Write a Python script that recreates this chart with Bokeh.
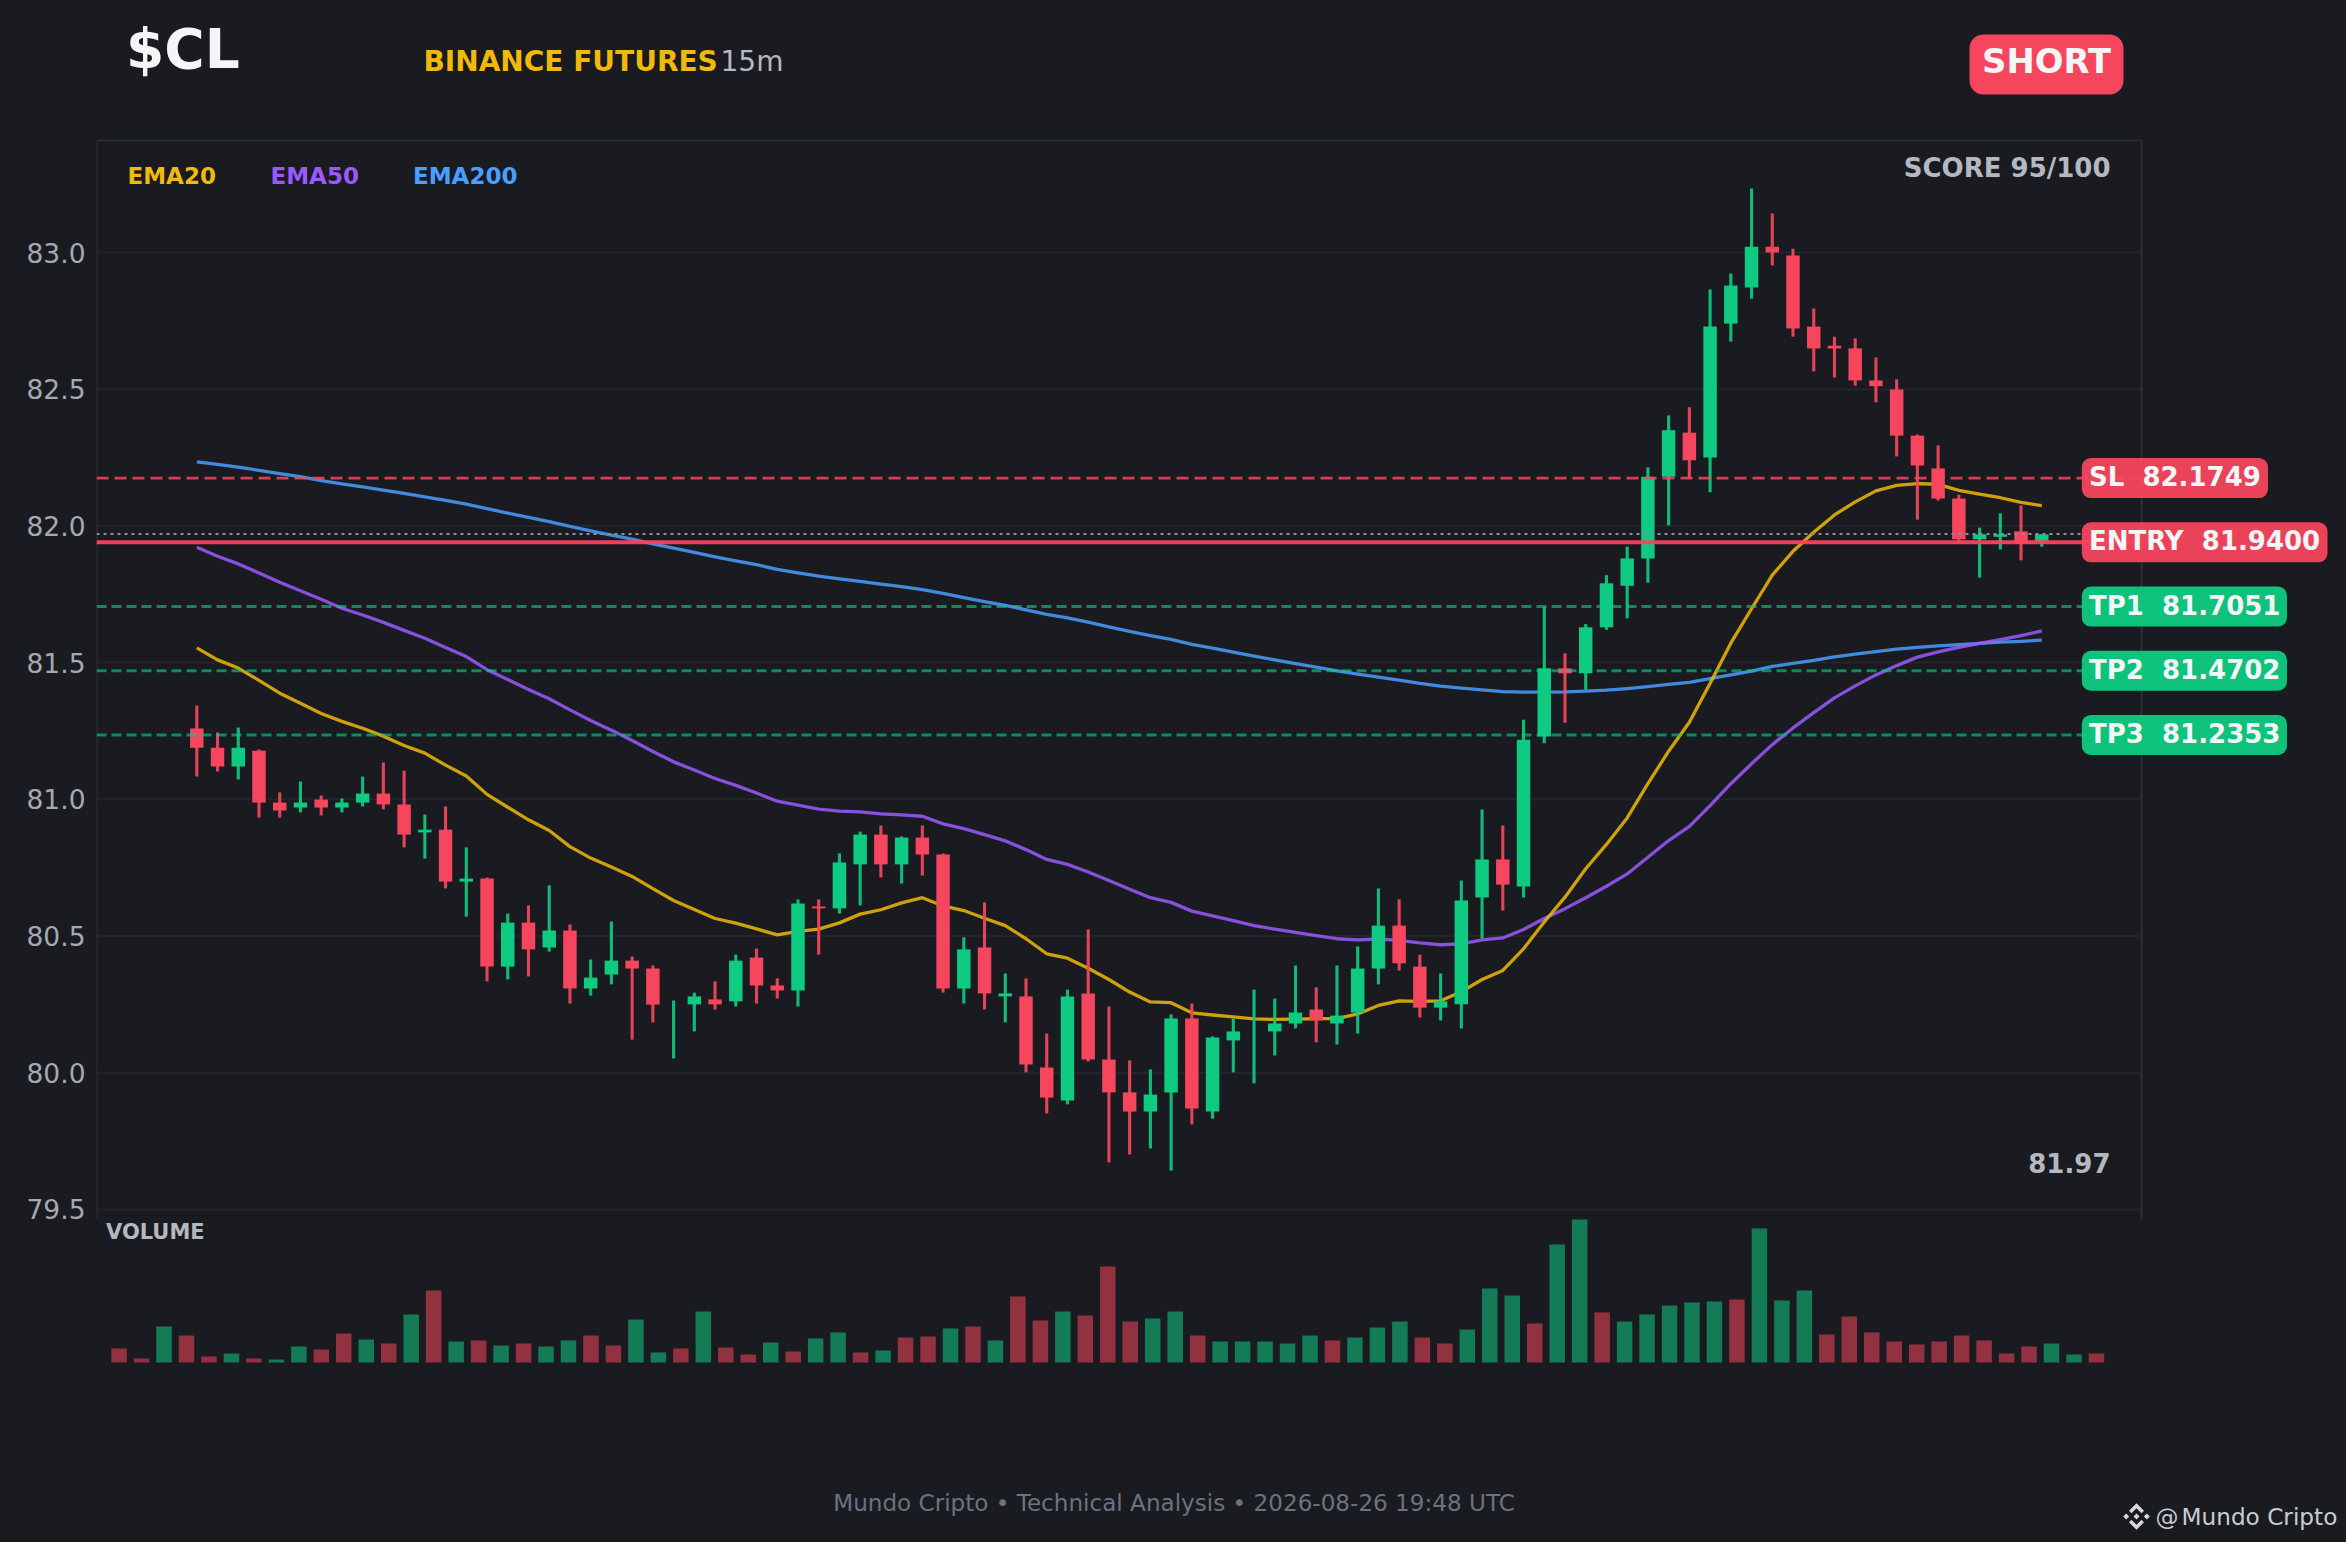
from bokeh.plotting import figure
from bokeh.models import (Range1d, Label, BoxAnnotation, ColumnDataSource, FixedTicker,
                          GlobalInlineStyleSheet, PrintfTickFormatter)
from bokeh.embed import file_html
from bokeh.resources import INLINE

BG = "#191B20"
GREEN = "#0ECB81"
RED = "#F6465D"
FONT = "DejaVu Sans"

opens = [81.259,81.189,81.120,81.178,80.988,80.970,80.999,80.970,80.988,81.021,
         80.981,80.879,80.889,80.699,80.710,80.388,80.549,80.458,80.520,80.308,
         80.359,80.410,80.381,80.264,80.250,80.268,80.261,80.421,80.319,80.301,
         80.608,80.601,80.762,80.871,80.762,80.860,80.798,80.308,80.458,80.279,
         80.279,80.019,79.898,80.290,80.048,79.928,79.858,79.928,80.198,79.858,
         80.118,80.195,80.151,80.180,80.231,80.180,80.220,80.381,80.538,80.388,
         80.238,80.250,80.641,80.780,80.681,81.230,81.479,81.461,81.629,81.781,
         81.881,82.180,82.341,82.250,82.740,82.872,83.021,82.989,82.729,82.659,
         82.649,82.532,82.499,82.330,82.210,82.100,81.951,81.960,81.980,81.944]
closes = [81.189,81.120,81.189,80.988,80.959,80.988,80.970,80.988,81.021,80.981,
          80.871,80.889,80.699,80.710,80.388,80.549,80.451,80.520,80.308,80.348,
          80.410,80.381,80.249,80.264,80.279,80.250,80.410,80.319,80.301,80.619,
          80.601,80.769,80.871,80.762,80.860,80.798,80.308,80.451,80.290,80.290,
          80.030,79.909,80.279,80.048,79.928,79.858,79.920,80.198,79.869,80.129,
          80.151,80.195,80.180,80.220,80.191,80.209,80.381,80.538,80.400,80.238,
          80.261,80.630,80.780,80.688,81.218,81.479,81.461,81.629,81.790,81.881,
          82.180,82.350,82.240,82.729,82.879,83.021,83.000,82.722,82.649,82.649,
          82.532,82.511,82.330,82.221,82.100,81.951,81.969,81.969,81.935,81.969]
highs = [81.343,81.244,81.263,81.182,81.025,81.065,81.014,81.003,81.083,81.135,
         81.105,80.944,80.974,80.824,80.714,80.582,80.612,80.685,80.542,80.414,
         80.553,80.425,80.392,80.264,80.293,80.334,80.432,80.454,80.345,80.634,
         80.634,80.802,80.882,80.904,80.864,80.904,80.802,80.495,80.623,80.363,
         80.345,80.143,80.304,80.524,80.242,80.045,80.012,80.213,80.253,80.133,
         80.198,80.304,80.271,80.392,80.312,80.392,80.462,80.674,80.634,80.432,
         80.363,80.703,80.963,80.904,81.291,81.704,81.534,81.641,81.820,81.924,
         82.214,82.404,82.434,82.865,82.923,83.234,83.143,83.014,82.795,82.692,
         82.686,82.616,82.536,82.334,82.294,82.114,81.994,82.046,82.075,81.970]
lows = [81.083,81.102,81.072,80.933,80.933,80.952,80.941,80.952,80.974,80.963,
        80.824,80.783,80.674,80.571,80.334,80.341,80.352,80.443,80.253,80.282,
        80.323,80.121,80.184,80.052,80.151,80.231,80.242,80.253,80.271,80.242,
        80.432,80.582,80.612,80.714,80.692,80.721,80.293,80.253,80.231,80.184,
        80.001,79.851,79.884,80.041,79.672,79.701,79.723,79.642,79.811,79.832,
        80.001,79.961,80.063,80.162,80.111,80.103,80.143,80.323,80.374,80.202,
        80.191,80.162,80.491,80.593,80.641,81.205,81.280,81.401,81.620,81.662,
        81.792,82.002,82.176,82.123,82.674,82.831,82.953,82.692,82.565,82.543,
        82.513,82.452,82.254,82.023,82.093,81.938,81.811,81.914,81.874,81.924]

ema20 = [81.554,81.510,81.480,81.435,81.388,81.351,81.314,81.285,81.260,81.231,
         81.197,81.169,81.125,81.085,81.018,80.971,80.925,80.886,80.827,80.785,
         80.752,80.718,80.673,80.630,80.597,80.564,80.547,80.526,80.504,80.517,
         80.525,80.548,80.580,80.596,80.621,80.640,80.610,80.593,80.565,80.538,
         80.490,80.435,80.419,80.382,80.341,80.295,80.259,80.256,80.219,80.211,
         80.204,80.197,80.195,80.196,80.198,80.198,80.215,80.246,80.263,80.261,
         80.263,80.296,80.341,80.374,80.453,80.551,80.642,80.746,80.835,80.932,
         81.057,81.176,81.282,81.424,81.571,81.697,81.820,81.907,81.977,82.040,
         82.088,82.128,82.148,82.155,82.152,82.130,82.116,82.103,82.086,82.074]
ema50 = [81.922,81.889,81.861,81.828,81.794,81.763,81.732,81.699,81.674,81.647,
         81.618,81.589,81.555,81.522,81.474,81.438,81.402,81.368,81.327,81.288,
         81.253,81.215,81.175,81.137,81.107,81.076,81.051,81.023,80.993,80.979,
         80.964,80.957,80.954,80.947,80.943,80.938,80.910,80.893,80.871,80.848,
         80.816,80.780,80.762,80.734,80.703,80.671,80.640,80.623,80.591,80.574,
         80.556,80.538,80.525,80.513,80.501,80.490,80.486,80.489,80.484,80.475,
         80.468,80.471,80.486,80.493,80.524,80.564,80.600,80.640,80.682,80.727,
         80.788,80.849,80.901,80.977,81.057,81.130,81.200,81.261,81.317,81.371,
         81.415,81.455,81.489,81.520,81.539,81.556,81.570,81.584,81.599,81.616]
ema200 = [82.234,82.225,82.215,82.203,82.191,82.180,82.166,82.154,82.143,82.131,
          82.119,82.106,82.093,82.080,82.063,82.047,82.031,82.016,81.998,81.982,
          81.966,81.952,81.934,81.919,81.903,81.887,81.872,81.858,81.841,81.828,
          81.816,81.806,81.797,81.787,81.778,81.767,81.753,81.738,81.723,81.709,
          81.693,81.676,81.664,81.648,81.631,81.614,81.599,81.585,81.567,81.553,
          81.538,81.524,81.510,81.496,81.483,81.470,81.458,81.447,81.436,81.424,
          81.414,81.407,81.400,81.394,81.392,81.392,81.393,81.396,81.399,81.405,
          81.412,81.420,81.428,81.441,81.455,81.469,81.486,81.497,81.508,81.521,
          81.531,81.540,81.549,81.556,81.561,81.566,81.570,81.575,81.578,81.582]

volumes = [42,12,108,81,18,27,12,9,48,39,87,69,57,144,216,63,66,51,57,48,66,81,51,
           129,30,42,153,45,24,60,33,72,90,30,36,75,78,102,108,66,198,126,153,141,
           288,123,132,153,81,63,63,63,57,81,66,75,105,123,75,57,99,222,201,117,
           354,429,150,123,144,171,180,183,189,402,186,216,84,138,90,63,54,63,81,
           66,27,48,57,24,27]

y_ticks = [79.5, 80.0, 80.5, 81.0, 81.5, 82.0, 82.5, 83.0]
last_price = 81.97
levels = [("SL", 82.1749, RED), ("ENTRY", 81.9400, RED), ("TP1", 81.7051, GREEN),
          ("TP2", 81.4702, GREEN), ("TP3", 81.2353, GREEN)]
tag_right = {"SL": 2267.5, "ENTRY": 2327, "TP1": 2286.5, "TP2": 2286.5, "TP3": 2286.5}

# page pixel -> data helpers, for text and decoration placement
def X(px): return (px - 196.3) / 20.73
def Y(py): return 83.0 - (py - 252.0) / 273.4
def VX(px): return (px - 118.6) / 22.47
def VY(py): return (1362.0 - py) * 3.0

XL, XR = X(96), X(2141)

p = figure(width=2346, height=1542, output_backend="svg", toolbar_location=None,
           x_range=Range1d(X(96), X(2346)), y_range=Range1d(Y(1542), Y(0)),
           x_axis_location=None, min_border_left=96, min_border_right=0,
           min_border_top=0, min_border_bottom=0,
           background_fill_color=BG, border_fill_color=BG, outline_line_color=None)
p.extra_x_ranges = {"vol_x": Range1d(VX(96), VX(2346))}
p.extra_y_ranges = {"vol_y": Range1d(VY(1542), VY(0))}

p.yaxis.ticker = FixedTicker(ticks=y_ticks)
p.yaxis.formatter = PrintfTickFormatter(format="%.1f")
p.yaxis.axis_line_color = None
p.yaxis.major_tick_line_color = None
p.yaxis.minor_tick_line_color = None
p.yaxis.major_label_standoff = 5
p.yaxis.major_label_text_font = FONT
p.yaxis.major_label_text_font_size = "26.5px"
p.yaxis.major_label_text_color = "#A4A9B3"
p.grid.visible = False

# horizontal rules stop at the panel's right side, so they are segments rather than a grid
p.segment([XL] * len(y_ticks), y_ticks, [XR] * len(y_ticks), y_ticks, line_color="#22262B", line_width=2)

xs = list(range(len(opens)))
for vals, col in ((ema200, "#4A9EFF"), (ema50, "#9B59FF"), (ema20, "#F0B90B")):
    p.line(xs, vals, line_color=col, line_width=3.3, line_alpha=0.85, line_join="round")

colors = [GREEN if c >= o else RED for o, c in zip(opens, closes)]
src = ColumnDataSource(dict(x=xs, o=opens, c=closes, h=highs, l=lows, color=colors,
                            top=[max(a, b) for a, b in zip(opens, closes)],
                            bottom=[min(a, b) for a, b in zip(opens, closes)]))
p.segment("x", "h", "x", "l", source=src, line_color="color", line_width=3.1, line_alpha=0.92)
p.vbar("x", width=0.65, top="top", bottom="bottom", source=src, fill_color="color", line_color=None)

spine = "#2A2F37"
yb, yt = Y(1218), Y(140)
p.segment([XL, XR, XL], [yb, yb, yt], [XL, XR, XR], [yt, yt, yt], line_color=spine, line_width=2)

p.segment([XL], [last_price], [XR], [last_price], line_color="#8A8F98", line_width=2, line_dash="3 4")
for name, val, col in levels:
    if name == "ENTRY":
        p.segment([XL], [val], [XR], [val], line_color=col, line_width=4, line_alpha=0.95)
    elif name == "SL":
        p.segment([XL], [val], [XR], [val], line_color=col, line_width=2.9, line_alpha=0.85, line_dash="12 6")
    else:
        p.segment([XL], [val], [XR], [val], line_color=col, line_width=2.9, line_alpha=0.62, line_dash="10 5")

# volume bars share the frame through their own ranges
vx = list(range(len(volumes)))
p.vbar(vx, width=0.69, top=volumes, bottom=0, fill_color=colors[:len(volumes)], fill_alpha=0.55,
       line_color=None, x_range_name="vol_x", y_range_name="vol_y")

def text(x, y, s, size, color, bold=False, align="left"):
    p.add_layout(Label(x=x, y=y, text=s, text_font=FONT, text_font_size=size, text_color=color,
                       text_font_style="bold" if bold else "normal", text_align=align,
                       text_baseline="middle"))

GREY = "#B3B8C2"
half = 20 / 273.4
nudge = 1 / 273.4
for name, val, col in levels:
    p.add_layout(BoxAnnotation(left=X(2081.3), right=X(tag_right[name]), bottom=val - half, top=val + half,
                               fill_color=col, fill_alpha=0.95, line_color=None, border_radius=9))
    text(X(2088.5), val + nudge, f"{name} \u00a0{val:.4f}", "26px", "#F3F5F7", bold=True)

p.add_layout(BoxAnnotation(left=X(1969), right=X(2123), bottom=Y(94), top=Y(34), fill_color=RED,
                           line_color=None, fill_alpha=1.0, border_radius=14))
text(X(2046), Y(61), "SHORT", "33.8px", "#F3F5F7", bold=True, align="center")
text(X(125.5), Y(48.5), "$CL", "55px", "#F3F5F7", bold=True)
text(X(423), Y(61), "BINANCE FUTURES", "28px", "#F0B90B", bold=True)
text(X(720), Y(61), "15m", "28px", "#B3B8C2")
text(X(127), Y(175.5), "EMA20", "23px", "#F0B90B", bold=True)
text(X(270), Y(175.5), "EMA50", "23px", "#9B59FF", bold=True)
text(X(412.5), Y(175.5), "EMA200", "23px", "#4A9EFF", bold=True)
text(X(2110), Y(167), "SCORE 95/100", "26px", GREY, bold=True, align="right")
text(X(2110), Y(1162.5), "81.97", "26px", GREY, bold=True, align="right")

text(X(105.5), Y(1231), "VOLUME", "21px", GREY, bold=True)
text(X(1173.5), Y(1502), "Mundo Cripto \u2022 Technical Analysis \u2022 2026-08-26 19:48 UTC",
     "23.1px", "#6B7280", align="center")
text(X(2155), Y(1516), "@", "23px", "#C8CCD3")
text(X(2181), Y(1516), "Mundo Cripto", "23.2px", "#C8CCD3")

# Binance mark beside the watermark
cx, cy = 2136.0, 1516.0
shapes = [
    [(0, 13.3), (7.5, 5.8), (5, 3.3), (0, 8.3), (-5, 3.3), (-7.5, 5.8)],
    [(0, -13.3), (7.5, -5.8), (5, -3.3), (0, -8.3), (-5, -3.3), (-7.5, -5.8)],
    [(0, 3), (3, 0), (0, -3), (-3, 0)],
    [(10.3, 3), (13.3, 0), (10.3, -3), (7.3, 0)],
    [(-10.3, 3), (-13.3, 0), (-10.3, -3), (-7.3, 0)],
]
p.patches([[X(cx + a) for a, _ in s] for s in shapes],
          [[Y(cy - b) for _, b in s] for s in shapes],
          fill_color="#D5D8DD", line_color=None)

p.stylesheets = [GlobalInlineStyleSheet(css="html,body{background:#191B20;overflow:hidden;}")]

open("out.html", "w").write(file_html(p, INLINE))
